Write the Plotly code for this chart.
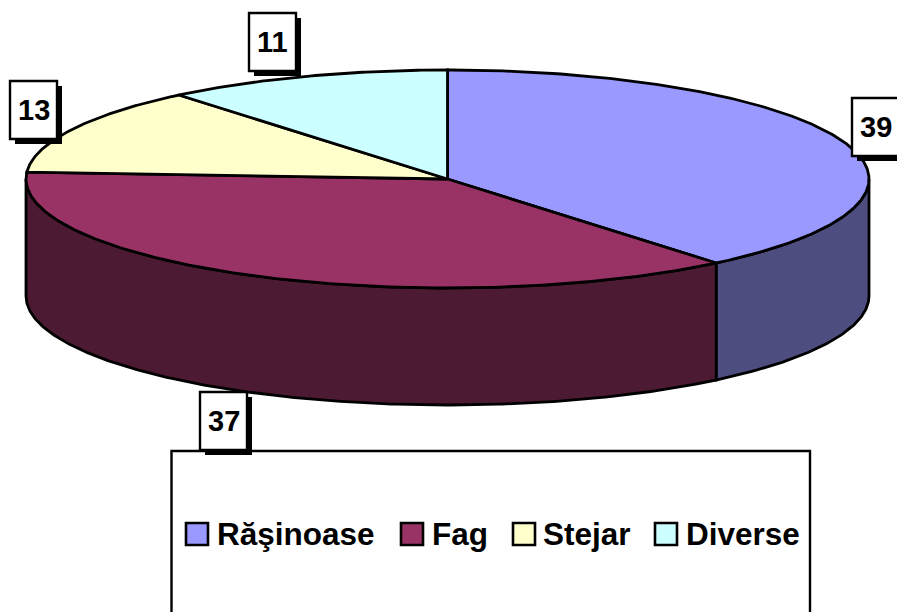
import numpy as np
import plotly.graph_objects as go

categories = ["Răşinoase", "Fag", "Stejar", "Diverse"]
values = [39, 37, 13, 11]
top_colors = ["#9999FF", "#993366", "#FFFFCC", "#CCFFFF"]
wall_colors = ["#4D4D80", "#4D1A33", "#808066", "#668080"]

W, H = 897, 612
CX, CY, RX, RY, DEPTH = 447.5, 179.0, 421.5, 109.0, 117.0
LW = 2.8


def rim(a0, a1, dy=0.0):
    t = np.radians(np.linspace(a0, a1, max(int(abs(a1 - a0) * 2), 2)))
    return CX + RX * np.sin(t), CY - RY * np.cos(t) + dy


fig = go.Figure()
edges = np.cumsum([0] + values) / sum(values) * 360

# Side wall: only the front half of the disc (90..270 deg clockwise from 12 o'clock)
for i, name in enumerate(categories):
    a0, a1 = max(edges[i], 90), min(edges[i + 1], 270)
    if a1 <= a0:
        continue
    xt, yt = rim(a0, a1)
    xb, yb = rim(a1, a0, DEPTH)
    fig.add_trace(go.Scatter(
        x=np.r_[xt, xb, xt[0]], y=np.r_[yt, yb, yt[0]],
        mode="lines", fill="toself", fillcolor=wall_colors[i],
        line=dict(color="black", width=LW), hoverinfo="skip", showlegend=False))

# Top face
for i, name in enumerate(categories):
    xa, ya = rim(edges[i], edges[i + 1])
    fig.add_trace(go.Scatter(
        x=np.r_[CX, xa, CX], y=np.r_[CY, ya, CY],
        mode="lines", fill="toself", fillcolor=top_colors[i],
        line=dict(color="black", width=LW), name=name, showlegend=False,
        hovertemplate=f"{name}: {values[i]}<extra></extra>"))

shapes, annotations = [], []

# Legend frame
shapes.append(dict(type="rect", x0=171.5, x1=810, y0=451, y1=640, xref="x", yref="y",
                   line=dict(color="black", width=2.4), fillcolor="white", layer="above"))

legend_swatch_x = [186, 401, 513, 655]
legend_text_x = [215, 430, 541, 684]
for name, color, sx, tx in zip(categories, top_colors, legend_swatch_x, legend_text_x):
    shapes.append(dict(type="rect", x0=sx, x1=sx + 22, y0=523, y1=545, xref="x", yref="y",
                       line=dict(color="black", width=2.6), fillcolor=color, layer="above"))
    annotations.append(dict(x=tx, y=534, xref="x", yref="y", text=f"<b>{name}</b>", showarrow=False,
                            xanchor="left", yanchor="middle",
                            font=dict(family="Liberation Sans", size=31.5, color="black")))

# Data labels with drop shadow (left, top of each box)
label_boxes = [(852, 98), (200, 392), (10, 81), (249, 13)]
BW, BH, SH = 47, 58, 5
for v, (bx, by) in zip(values, label_boxes):
    shapes.append(dict(type="rect", x0=bx + SH, x1=bx + BW + SH, y0=by + SH, y1=by + BH + SH,
                       xref="x", yref="y", line=dict(color="black", width=0),
                       fillcolor="black", layer="above"))
    shapes.append(dict(type="rect", x0=bx, x1=bx + BW, y0=by, y1=by + BH, xref="x", yref="y",
                       line=dict(color="black", width=2.4), fillcolor="white", layer="above"))
    annotations.append(dict(x=bx + BW / 2, y=by + BH / 2, xref="x", yref="y", text=f"<b>{v}</b>",
                            showarrow=False, xanchor="center", yanchor="middle",
                            font=dict(family="Liberation Sans", size=29, color="black")))

fig.update_layout(
    width=W, height=H, margin=dict(l=0, r=0, t=0, b=0), showlegend=False,
    paper_bgcolor="white", plot_bgcolor="white",
    xaxis=dict(range=[0, W], visible=False, fixedrange=True),
    yaxis=dict(range=[H, 0], visible=False, fixedrange=True),
    shapes=shapes, annotations=annotations,
)
fig.write_html("out.html", config=dict(displayModeBar=False),
               post_script="document.body.style.margin='0';document.body.style.overflow='hidden';")
